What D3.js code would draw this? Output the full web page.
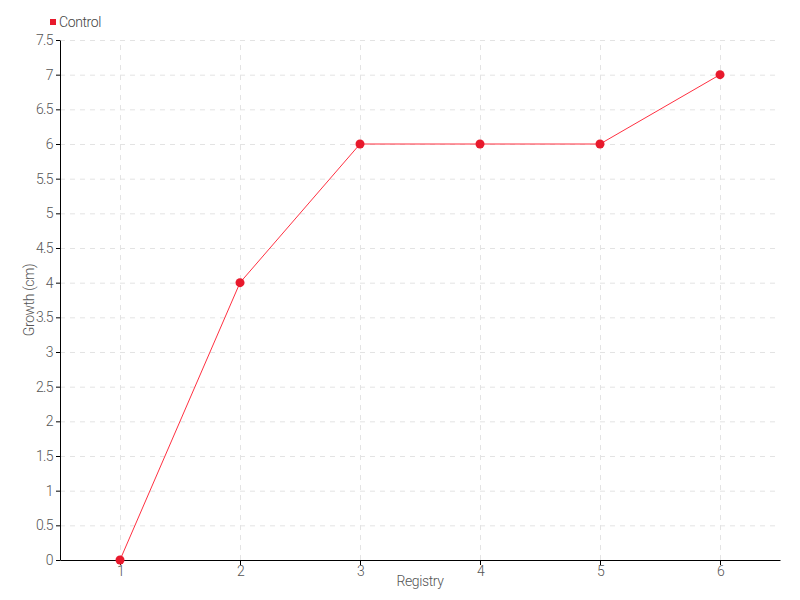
<!DOCTYPE html>
<html>
<head>
<meta charset="utf-8">
<script src="https://cdn.jsdelivr.net/npm/d3@7"></script>
<style>
  body { margin: 0; background: #fff; }
  svg { font-family: Roboto, sans-serif; font-weight: 300; }
  .axis text { fill: #555; font-size: 14px; font-family: Roboto, sans-serif; font-weight: 300; letter-spacing: -0.6px; }
  .axis path, .axis line { stroke: #000; }
  .grid line { stroke: #e3e3e3; stroke-dasharray: 5,5; }
  .grid path { display: none; }
</style>
</head>
<body>
<svg></svg>
<script>
document.addEventListener('DOMContentLoaded', function() {

  var width = 800;
  var height = 600;
  var margin = {top: 40, right: 20, bottom: 40, left: 60};

  var registry = [1, 2, 3, 4, 5, 6];
  var growth = [0, 4, 6, 6, 6, 7];
  var yTicks = [0, 0.5, 1, 1.5, 2, 2.5, 3, 3.5, 4, 4.5, 5, 5.5, 6, 6.5, 7, 7.5];
  var seriesName = 'Control';

  var data = registry.map((r, i) => ({x: r, y: growth[i]}));

  var svg = d3.select('svg')
              .attr('width', width)
              .attr('height', height);

  var xScale = d3.scaleLinear()
                 .domain([0.5, 6.5])
                 .range([margin.left, width - margin.right]);

  var yScale = d3.scaleLinear()
                 .domain([0, 7.5])
                 .range([height - margin.bottom, margin.top]);

  // grid
  svg.append('g')
     .attr('class', 'grid')
     .attr('transform', `translate(0, ${height - margin.bottom})`)
     .call(d3.axisBottom(xScale).tickValues(registry)
       .tickSize(-(height - margin.top - margin.bottom)).tickFormat(''));

  svg.append('g')
     .attr('class', 'grid')
     .attr('transform', `translate(${margin.left}, 0)`)
     .call(d3.axisLeft(yScale).tickValues(yTicks.slice(1))
       .tickSize(-(width - margin.left - margin.right)).tickFormat(''));

  // axes
  svg.append('g')
     .attr('class', 'axis')
     .attr('transform', `translate(0, ${height - margin.bottom})`)
     .call(d3.axisBottom(xScale).tickValues(registry).tickSize(5).tickSizeOuter(0).tickPadding(1).tickFormat(d3.format('d')));

  svg.append('g')
     .attr('class', 'axis')
     .attr('transform', `translate(${margin.left}, 0)`)
     .call(d3.axisLeft(yScale).tickValues(yTicks).tickSize(4).tickSizeOuter(0).tickPadding(3).tickFormat(d => d));

  // line
  var line = d3.line()
               .x(d => xScale(d.x))
               .y(d => yScale(d.y));

  svg.append('path')
     .datum(data)
     .attr('fill', 'none')
     .attr('stroke', '#ff3041')
     .attr('stroke-width', 1)
     .attr('d', line);

  svg.selectAll('.dot')
     .data(data)
     .enter()
     .append('circle')
       .attr('class', 'dot')
       .attr('cx', d => xScale(d.x))
       .attr('cy', d => yScale(d.y))
       .attr('r', 4.5)
       .attr('fill', '#e8192c');

  // axis titles
  svg.append('text')
     .attr('x', (margin.left + width - margin.right) / 2)
     .attr('y', 586)
     .attr('text-anchor', 'middle')
     .attr('fill', '#555')
     .style('font-size', '14px')
     .style('letter-spacing', '-0.4px')
     .text('Registry');

  svg.append('text')
     .attr('transform', `translate(34, ${(margin.top + height - margin.bottom) / 2}) rotate(-90)`)
     .attr('text-anchor', 'middle')
     .attr('fill', '#555')
     .style('font-size', '14px')
     .style('letter-spacing', '-0.4px')
     .text('Growth (cm)');

  // legend
  svg.append('rect')
     .attr('x', 50)
     .attr('y', 19)
     .attr('width', 6)
     .attr('height', 6)
     .attr('fill', '#e8192c');

  svg.append('text')
     .attr('x', 59)
     .attr('y', 27)
     .attr('fill', '#444')
     .style('font-size', '14px')
     .style('letter-spacing', '-0.4px')
     .text(seriesName);

});
</script>
</body>
</html>
